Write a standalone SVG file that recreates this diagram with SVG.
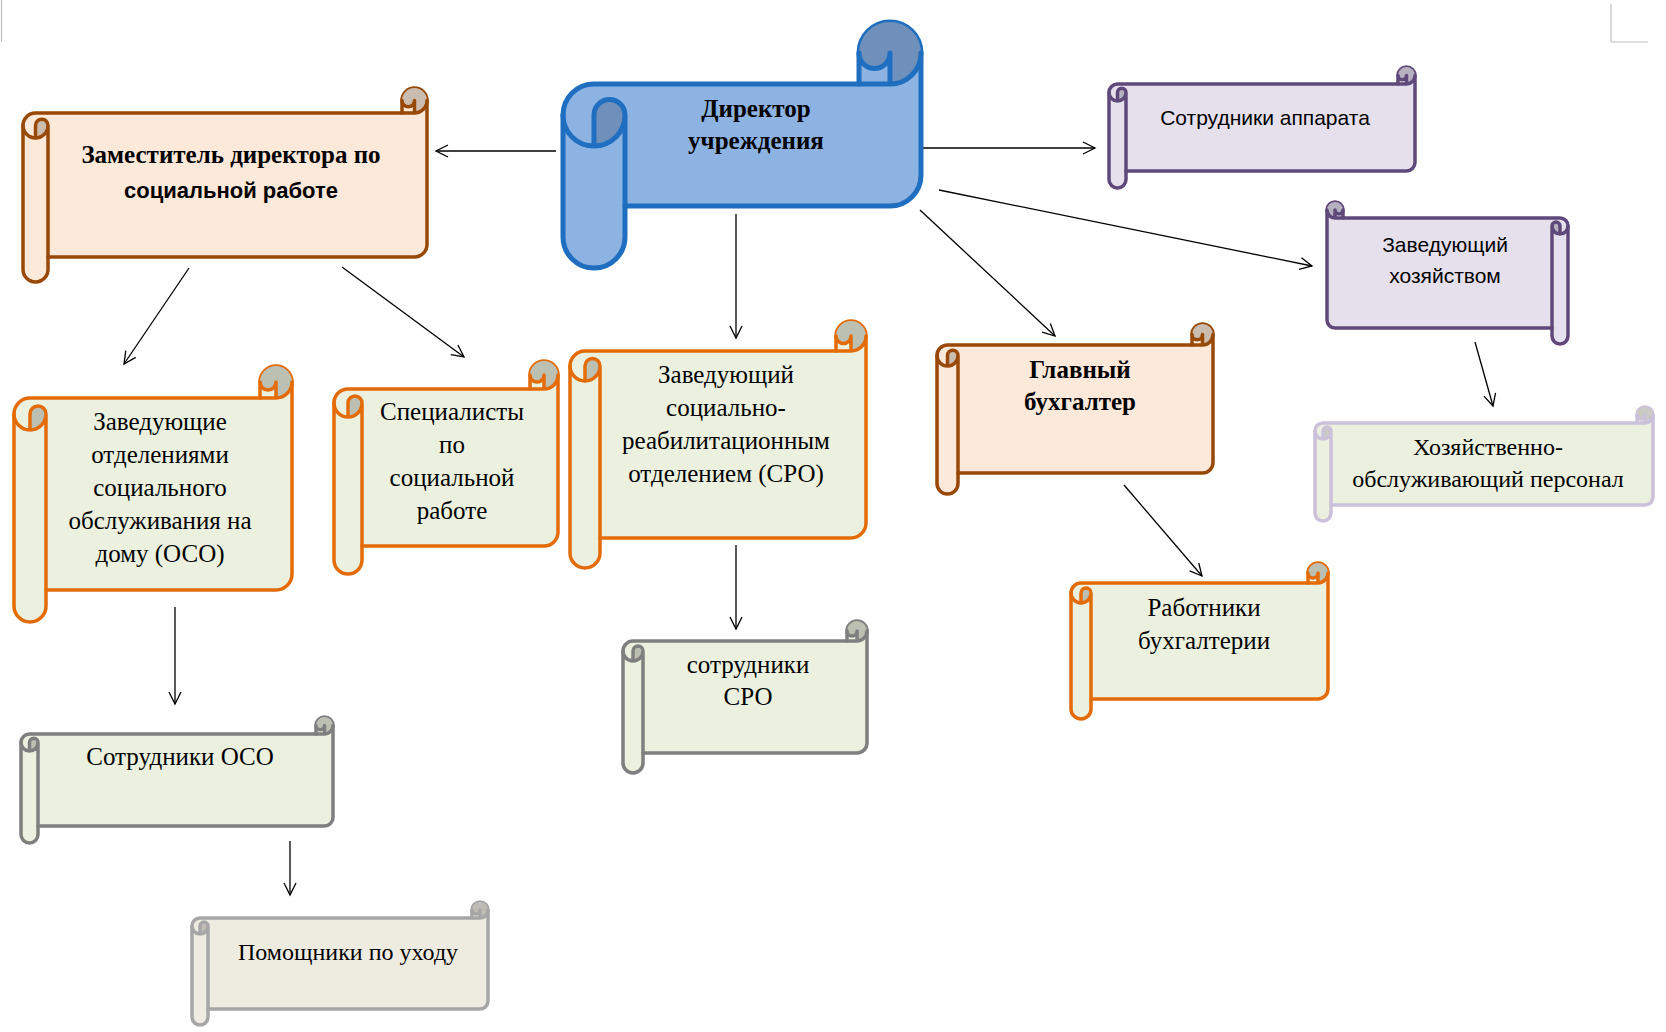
<svg xmlns="http://www.w3.org/2000/svg" width="1666" height="1032" viewBox="0 0 1666 1032">
<defs>
<style>
.o{stroke-linejoin:round}
.d{stroke:none}
.l{fill:none;stroke-linejoin:round;stroke-linecap:round}
.blue .o{fill:#8db3e2;stroke:#1f6ebf;stroke-width:5}
.blue .d{fill:#6e90ba}
.blue .l{stroke:#1f6ebf;stroke-width:5}
.peach .o{fill:#fde9d9;stroke:#984807;stroke-width:3.5}
.peach .d{fill:#cbbcb0}
.peach .l{stroke:#984807;stroke-width:3.5}
.orange .o{fill:#ebf1de;stroke:#e36c09;stroke-width:3.5}
.orange .d{fill:#bcc0b3}
.orange .l{stroke:#e36c09;stroke-width:3.5}
.grey .o{fill:#ebf1de;stroke:#7f7f7f;stroke-width:3.5}
.grey .d{fill:#bcc0b3}
.grey .l{stroke:#7f7f7f;stroke-width:3.5}
.lgrey .o{fill:#eeece1;stroke:#a6a6a6;stroke-width:3.5}
.lgrey .d{fill:#bebcb4}
.lgrey .l{stroke:#a6a6a6;stroke-width:3.5}
.purple .o{fill:#e5e0ec;stroke:#5f497a;stroke-width:3.5}
.purple .d{fill:#b7b1bf}
.purple .l{stroke:#5f497a;stroke-width:3.5}
.lilac .o{fill:#ebf1de;stroke:#ccc1da;stroke-width:3.5}
.lilac .d{fill:#c9cbc4}
.lilac .l{stroke:#ccc1da;stroke-width:3.5}
text{fill:#000;text-anchor:middle}
.serif{font-family:"Liberation Serif","Times New Roman",serif;font-size:25px}
.s24{font-size:24px}
.sans{font-family:"Liberation Sans",Arial,sans-serif;font-size:21px}
.b{font-weight:bold;font-size:25px}
.conn line{stroke:#000;stroke-width:1.3;marker-end:url(#arr)}
</style>
<marker id="arr" markerUnits="userSpaceOnUse" markerWidth="16" markerHeight="16" refX="13" refY="7" orient="auto">
<path d="M1,1 L13,7 L1,13" fill="none" stroke="#000" stroke-width="1.3"/>
</marker>
</defs>
<rect width="1666" height="1032" fill="#fff"/>
<g id="page-marks" stroke="#c0c0c0" stroke-width="1.2">
<line x1="1.5" y1="0" x2="1.5" y2="42"/>
<line x1="1611" y1="4" x2="1611" y2="42"/>
<line x1="1611" y1="42" x2="1648" y2="42"/>
</g>

<g id="connectors" class="conn">
<line x1="556" y1="151" x2="436" y2="151"/>
<line x1="920" y1="148" x2="1095" y2="148"/>
<line x1="939" y1="190" x2="1312" y2="266"/>
<line x1="920" y1="210" x2="1055" y2="336"/>
<line x1="736" y1="214" x2="736" y2="338"/>
<line x1="189" y1="268" x2="124" y2="364"/>
<line x1="342" y1="267" x2="464" y2="357"/>
<line x1="175" y1="607" x2="175" y2="704"/>
<line x1="290" y1="841" x2="290" y2="895"/>
<line x1="736" y1="545" x2="736" y2="629"/>
<line x1="1124" y1="485" x2="1202" y2="576"/>
<line x1="1475" y1="342" x2="1493" y2="406"/>
</g>

<g id="director">
<g class="blue" transform="translate(563,22)">
<path class="o" d="M0,93 A31 31 0 0 1 31,62 L296,62 L296,31 A31 31 0 0 1 358,31 L358,153 A31 31 0 0 1 327,184 L62,184 L62,215 A31 31 0 0 1 0,215 Z"/>
<path class="d" d="M31,124 A31 31 0 0 0 62,93 A15.5 15.5 0 0 0 31,93 Z M327,62 A31 31 0 1 0 296,31 A15.5 15.5 0 0 0 327,31 Z"/>
<path class="l" d="M296,62 L327,62 A31 31 0 0 0 358,31 M327,62 L327,31 A15.5 15.5 0 0 1 296,31 M31,124 L31,93 A15.5 15.5 0 0 1 62,93 A31 31 0 0 1 0,93 M62,93 L62,184"/>
</g>
<text class="serif b" x="756" y="117">Директор</text>
<text class="serif b" x="756" y="149">учреждения</text>
</g>

<g id="deputy">
<g class="peach" transform="translate(23,88)">
<path class="o" d="M0,37.5 A12.5 12.5 0 0 1 12.5,25 L379,25 L379,12.5 A12.5 12.5 0 0 1 404,12.5 L404,156.5 A12.5 12.5 0 0 1 391.5,169 L25,169 L25,181.5 A12.5 12.5 0 0 1 0,181.5 Z"/>
<path class="d" d="M12.5,50 A12.5 12.5 0 0 0 25,37.5 A6.25 6.25 0 0 0 12.5,37.5 Z M391.5,25 A12.5 12.5 0 1 0 379,12.5 A6.25 6.25 0 0 0 391.5,12.5 Z"/>
<path class="l" d="M379,25 L391.5,25 A12.5 12.5 0 0 0 404,12.5 M391.5,25 L391.5,12.5 A6.25 6.25 0 0 1 379,12.5 M12.5,50 L12.5,37.5 A6.25 6.25 0 0 1 25,37.5 A12.5 12.5 0 0 1 0,37.5 M25,37.5 L25,169"/>
</g>
<text class="serif b" x="231" y="163">Заместитель директора по</text>
<text class="sans b" x="231" y="198" style="font-size:22px">социальной работе</text>
</g>

<g id="apparatus-staff">
<g class="purple" transform="translate(1109,67)">
<path class="o" d="M0,25.5 A8.5 8.5 0 0 1 8.5,17 L289,17 L289,8.5 A8.5 8.5 0 0 1 306,8.5 L306,95.5 A8.5 8.5 0 0 1 297.5,104 L17,104 L17,112.5 A8.5 8.5 0 0 1 0,112.5 Z"/>
<path class="d" d="M8.5,34 A8.5 8.5 0 0 0 17,25.5 A4.25 4.25 0 0 0 8.5,25.5 Z M297.5,17 A8.5 8.5 0 1 0 289,8.5 A4.25 4.25 0 0 0 297.5,8.5 Z"/>
<path class="l" d="M289,17 L297.5,17 A8.5 8.5 0 0 0 306,8.5 M297.5,17 L297.5,8.5 A4.25 4.25 0 0 1 289,8.5 M8.5,34 L8.5,25.5 A4.25 4.25 0 0 1 17,25.5 A8.5 8.5 0 0 1 0,25.5 M17,25.5 L17,104"/>
</g>
<text class="sans" x="1265" y="125">Сотрудники аппарата</text>
</g>

<g id="household-head">
<g class="purple" transform="translate(1568,202) scale(-1,1)">
<path class="o" d="M0,24 A8 8 0 0 1 8,16 L225,16 L225,8 A8 8 0 0 1 241,8 L241,118 A8 8 0 0 1 233,126 L16,126 L16,134 A8 8 0 0 1 0,134 Z"/>
<path class="d" d="M8,32 A8 8 0 0 0 16,24 A4 4 0 0 0 8,24 Z M233,16 A8 8 0 1 0 225,8 A4 4 0 0 0 233,8 Z"/>
<path class="l" d="M225,16 L233,16 A8 8 0 0 0 241,8 M233,16 L233,8 A4 4 0 0 1 225,8 M8,32 L8,24 A4 4 0 0 1 16,24 A8 8 0 0 1 0,24 M16,24 L16,126"/>
</g>
<text class="sans" x="1445" y="252">Заведующий</text>
<text class="sans" x="1445" y="283">хозяйством</text>
</g>

<g id="household-staff">
<g class="lilac" transform="translate(1315,407)">
<path class="o" d="M0,24 A8 8 0 0 1 8,16 L322,16 L322,8 A8 8 0 0 1 338,8 L338,90 A8 8 0 0 1 330,98 L16,98 L16,106 A8 8 0 0 1 0,106 Z"/>
<path class="d" d="M8,32 A8 8 0 0 0 16,24 A4 4 0 0 0 8,24 Z M330,16 A8 8 0 1 0 322,8 A4 4 0 0 0 330,8 Z"/>
<path class="l" d="M322,16 L330,16 A8 8 0 0 0 338,8 M330,16 L330,8 A4 4 0 0 1 322,8 M8,32 L8,24 A4 4 0 0 1 16,24 A8 8 0 0 1 0,24 M16,24 L16,98"/>
</g>
<text class="serif s24" x="1488" y="455">Хозяйственно-</text>
<text class="serif s24" x="1488" y="487">обслуживающий персонал</text>
</g>

<g id="oso-heads">
<g class="orange" transform="translate(14,366)">
<path class="o" d="M0,48 A16 16 0 0 1 16,32 L246,32 L246,16 A16 16 0 0 1 278,16 L278,208 A16 16 0 0 1 262,224 L32,224 L32,240 A16 16 0 0 1 0,240 Z"/>
<path class="d" d="M16,64 A16 16 0 0 0 32,48 A8 8 0 0 0 16,48 Z M262,32 A16 16 0 1 0 246,16 A8 8 0 0 0 262,16 Z"/>
<path class="l" d="M246,32 L262,32 A16 16 0 0 0 278,16 M262,32 L262,16 A8 8 0 0 1 246,16 M16,64 L16,48 A8 8 0 0 1 32,48 A16 16 0 0 1 0,48 M32,48 L32,224"/>
</g>
<text class="serif" x="160" y="430">Заведующие</text>
<text class="serif" x="160" y="463">отделениями</text>
<text class="serif" x="160" y="496">социального</text>
<text class="serif" x="160" y="529">обслуживания на</text>
<text class="serif" x="160" y="562">дому (ОСО)</text>
</g>

<g id="specialists">
<g class="orange" transform="translate(334,361)">
<path class="o" d="M0,42 A14 14 0 0 1 14,28 L196,28 L196,14 A14 14 0 0 1 224,14 L224,171 A14 14 0 0 1 210,185 L28,185 L28,199 A14 14 0 0 1 0,199 Z"/>
<path class="d" d="M14,56 A14 14 0 0 0 28,42 A7 7 0 0 0 14,42 Z M210,28 A14 14 0 1 0 196,14 A7 7 0 0 0 210,14 Z"/>
<path class="l" d="M196,28 L210,28 A14 14 0 0 0 224,14 M210,28 L210,14 A7 7 0 0 1 196,14 M14,56 L14,42 A7 7 0 0 1 28,42 A14 14 0 0 1 0,42 M28,42 L28,185"/>
</g>
<text class="serif" x="452" y="420">Специалисты</text>
<text class="serif" x="452" y="453">по</text>
<text class="serif" x="452" y="486">социальной</text>
<text class="serif" x="452" y="519">работе</text>
</g>

<g id="sro-head">
<g class="orange" transform="translate(570,321)">
<path class="o" d="M0,45 A15 15 0 0 1 15,30 L266,30 L266,15 A15 15 0 0 1 296,15 L296,202 A15 15 0 0 1 281,217 L30,217 L30,232 A15 15 0 0 1 0,232 Z"/>
<path class="d" d="M15,60 A15 15 0 0 0 30,45 A7.5 7.5 0 0 0 15,45 Z M281,30 A15 15 0 1 0 266,15 A7.5 7.5 0 0 0 281,15 Z"/>
<path class="l" d="M266,30 L281,30 A15 15 0 0 0 296,15 M281,30 L281,15 A7.5 7.5 0 0 1 266,15 M15,60 L15,45 A7.5 7.5 0 0 1 30,45 A15 15 0 0 1 0,45 M30,45 L30,217"/>
</g>
<text class="serif" x="726" y="383">Заведующий</text>
<text class="serif" x="726" y="416">социально-</text>
<text class="serif" x="726" y="449">реабилитационным</text>
<text class="serif" x="726" y="482">отделением (СРО)</text>
</g>

<g id="chief-accountant">
<g class="peach" transform="translate(937,324)">
<path class="o" d="M0,31.5 A10.5 10.5 0 0 1 10.5,21 L255,21 L255,10.5 A10.5 10.5 0 0 1 276,10.5 L276,138.5 A10.5 10.5 0 0 1 265.5,149 L21,149 L21,159.5 A10.5 10.5 0 0 1 0,159.5 Z"/>
<path class="d" d="M10.5,42 A10.5 10.5 0 0 0 21,31.5 A5.25 5.25 0 0 0 10.5,31.5 Z M265.5,21 A10.5 10.5 0 1 0 255,10.5 A5.25 5.25 0 0 0 265.5,10.5 Z"/>
<path class="l" d="M255,21 L265.5,21 A10.5 10.5 0 0 0 276,10.5 M265.5,21 L265.5,10.5 A5.25 5.25 0 0 1 255,10.5 M10.5,42 L10.5,31.5 A5.25 5.25 0 0 1 21,31.5 A10.5 10.5 0 0 1 0,31.5 M21,31.5 L21,149"/>
</g>
<text class="serif b" x="1080" y="378">Главный</text>
<text class="serif b" x="1080" y="410">бухгалтер</text>
</g>

<g id="sro-staff">
<g class="grey" transform="translate(623,621)">
<path class="o" d="M0,30 A10 10 0 0 1 10,20 L224,20 L224,10 A10 10 0 0 1 244,10 L244,122 A10 10 0 0 1 234,132 L20,132 L20,142 A10 10 0 0 1 0,142 Z"/>
<path class="d" d="M10,40 A10 10 0 0 0 20,30 A5 5 0 0 0 10,30 Z M234,20 A10 10 0 1 0 224,10 A5 5 0 0 0 234,10 Z"/>
<path class="l" d="M224,20 L234,20 A10 10 0 0 0 244,10 M234,20 L234,10 A5 5 0 0 1 224,10 M10,40 L10,30 A5 5 0 0 1 20,30 A10 10 0 0 1 0,30 M20,30 L20,132"/>
</g>
<text class="serif" x="748" y="673">сотрудники</text>
<text class="serif" x="748" y="705">СРО</text>
</g>

<g id="oso-staff">
<g class="grey" transform="translate(21,717)">
<path class="o" d="M0,25.5 A8.5 8.5 0 0 1 8.5,17 L295,17 L295,8.5 A8.5 8.5 0 0 1 312,8.5 L312,100.5 A8.5 8.5 0 0 1 303.5,109 L17,109 L17,117.5 A8.5 8.5 0 0 1 0,117.5 Z"/>
<path class="d" d="M8.5,34 A8.5 8.5 0 0 0 17,25.5 A4.25 4.25 0 0 0 8.5,25.5 Z M303.5,17 A8.5 8.5 0 1 0 295,8.5 A4.25 4.25 0 0 0 303.5,8.5 Z"/>
<path class="l" d="M295,17 L303.5,17 A8.5 8.5 0 0 0 312,8.5 M303.5,17 L303.5,8.5 A4.25 4.25 0 0 1 295,8.5 M8.5,34 L8.5,25.5 A4.25 4.25 0 0 1 17,25.5 A8.5 8.5 0 0 1 0,25.5 M17,25.5 L17,109"/>
</g>
<text class="serif" x="180" y="765">Сотрудники ОСО</text>
</g>

<g id="accountants">
<g class="orange" transform="translate(1071,563)">
<path class="o" d="M0,30 A10 10 0 0 1 10,20 L237,20 L237,10 A10 10 0 0 1 257,10 L257,126 A10 10 0 0 1 247,136 L20,136 L20,146 A10 10 0 0 1 0,146 Z"/>
<path class="d" d="M10,40 A10 10 0 0 0 20,30 A5 5 0 0 0 10,30 Z M247,20 A10 10 0 1 0 237,10 A5 5 0 0 0 247,10 Z"/>
<path class="l" d="M237,20 L247,20 A10 10 0 0 0 257,10 M247,20 L247,10 A5 5 0 0 1 237,10 M10,40 L10,30 A5 5 0 0 1 20,30 A10 10 0 0 1 0,30 M20,30 L20,136"/>
</g>
<text class="serif" x="1204" y="616">Работники</text>
<text class="serif" x="1204" y="649">бухгалтерии</text>
</g>

<g id="care-assistants">
<g class="lgrey" transform="translate(192,902)">
<path class="o" d="M0,24 A8 8 0 0 1 8,16 L280,16 L280,8 A8 8 0 0 1 296,8 L296,99 A8 8 0 0 1 288,107 L16,107 L16,115 A8 8 0 0 1 0,115 Z"/>
<path class="d" d="M8,32 A8 8 0 0 0 16,24 A4 4 0 0 0 8,24 Z M288,16 A8 8 0 1 0 280,8 A4 4 0 0 0 288,8 Z"/>
<path class="l" d="M280,16 L288,16 A8 8 0 0 0 296,8 M288,16 L288,8 A4 4 0 0 1 280,8 M8,32 L8,24 A4 4 0 0 1 16,24 A8 8 0 0 1 0,24 M16,24 L16,107"/>
</g>
<text class="serif s24" x="348" y="960">Помощники по уходу</text>
</g>
</svg>
